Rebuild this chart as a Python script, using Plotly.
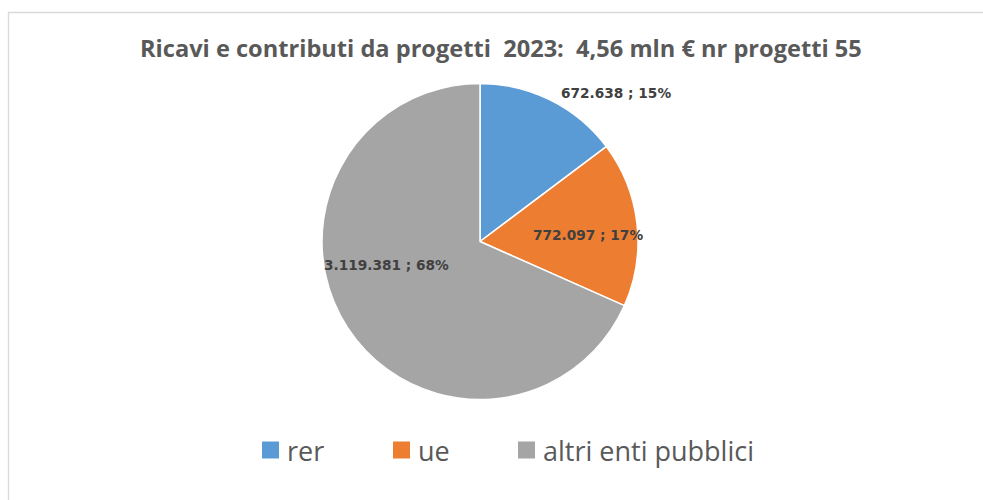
import plotly.graph_objects as go

categories = ["rer", "ue", "altri enti pubblici"]
values = [672638, 772097, 3119381]
colors = ["#5B9BD5", "#ED7D31", "#A5A5A5"]
title_text = "Ricavi e contributi da progetti  2023:  4,56 mln € nr progetti 55"

W, H = 983, 500
total = sum(values)


def it_num(v):
    return f"{v:,}".replace(",", ".")


labels = [f"{it_num(v)} ; {round(v / total * 100)}%" for v in values]
# label anchor positions (pixels)
label_pos = [(616, 93), (588, 235), (386, 265)]
# legend entry positions (pixels): square left edge
legend_x = [262, 393, 518]
legend_y = 450
sq = 17

cx, cy, r = 480, 241.5, 158

fig = go.Figure()
fig.add_trace(go.Pie(
    labels=categories,
    values=values,
    sort=False,
    direction="clockwise",
    rotation=0,
    marker=dict(colors=colors, line=dict(color="white", width=1.5)),
    textinfo="none",
    hoverinfo="label+value+percent",
    showlegend=False,
    domain=dict(x=[(cx - r) / W, (cx + r) / W], y=[1 - (cy + r) / H, 1 - (cy - r) / H]),
))

annotations = []
for txt, (px, py) in zip(labels, label_pos):
    annotations.append(dict(
        x=px / W, y=1 - py / H, xref="paper", yref="paper",
        text=f"<b>{txt}</b>", showarrow=False,
        font=dict(family="DejaVu Sans", size=13.7, color="#404040"),
        xanchor="center", yanchor="middle",
    ))
annotations.append(dict(
    x=501 / W, y=1 - 48 / H, xref="paper", yref="paper",
    text=f"<b>{title_text}</b>", showarrow=False,
    font=dict(family="Open Sans", size=23.6, color="#595959"),
    xanchor="center", yanchor="middle",
))

shapes = [dict(
    type="rect", xref="paper", yref="paper",
    x0=8.5 / W, x1=1.02, y0=-0.02, y1=1 - 12.5 / H,
    line=dict(color="#D9D9D9", width=1.3), fillcolor="rgba(0,0,0,0)",
    layer="below",
)]
for name, col, lx in zip(categories, colors, legend_x):
    shapes.append(dict(
        type="rect", xref="paper", yref="paper",
        x0=lx / W, x1=(lx + sq) / W,
        y0=1 - (legend_y + sq / 2) / H, y1=1 - (legend_y - sq / 2) / H,
        line=dict(width=0), fillcolor=col,
    ))
    annotations.append(dict(
        x=(lx + sq + 6) / W, y=1 - legend_y / H, xref="paper", yref="paper",
        text=name, showarrow=False,
        font=dict(family="Open Sans", size=27, color="#595959"),
        xanchor="left", yanchor="middle",
    ))

fig.update_layout(
    width=W, height=H,
    margin=dict(l=0, r=0, t=0, b=0),
    paper_bgcolor="white",
    plot_bgcolor="white",
    annotations=annotations,
    shapes=shapes,
    showlegend=False,
)

fig.write_html("out.html", config={"displayModeBar": False},
               post_script="document.body.style.margin='0px';")
